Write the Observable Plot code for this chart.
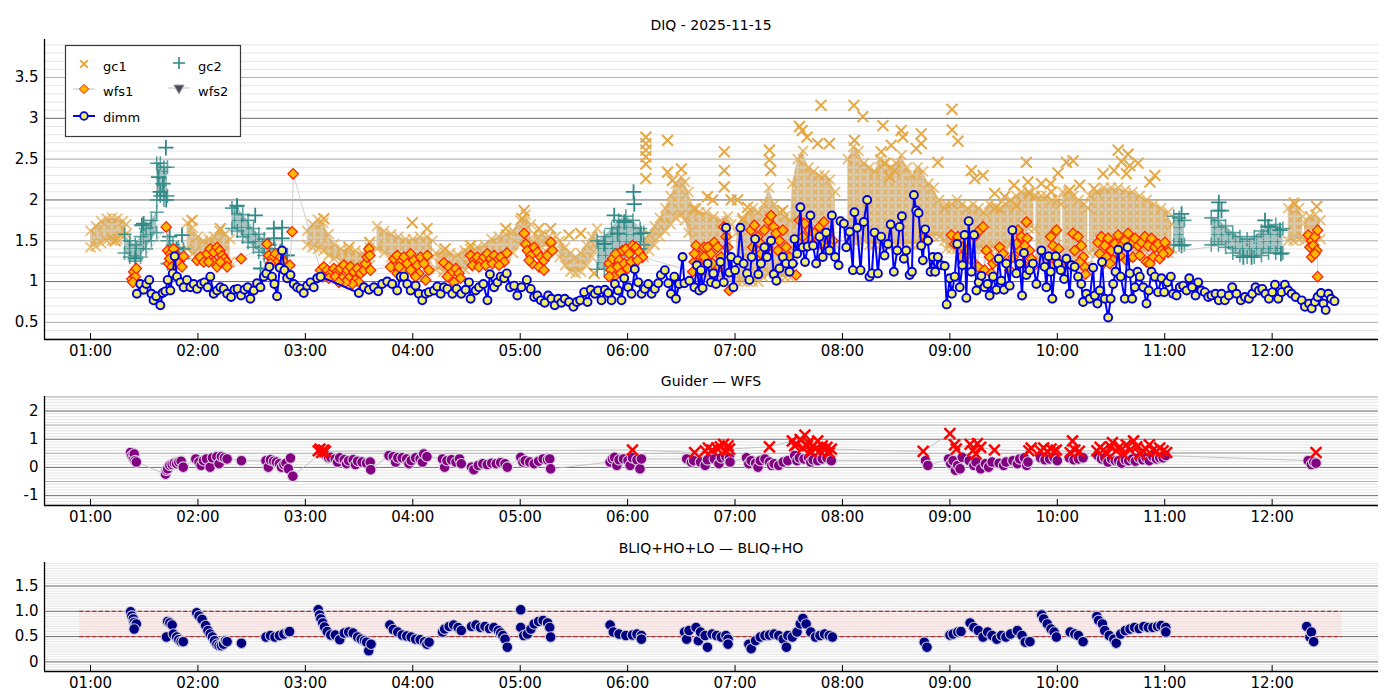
<!DOCTYPE html>
<html><head><meta charset="utf-8">
<script src="https://cdn.jsdelivr.net/npm/d3@7"></script>
<script src="https://cdn.jsdelivr.net/npm/@observablehq/plot@0.6"></script>
<style>
body{margin:0;background:#fff;font-family:"DejaVu Sans",sans-serif;}
#wrap{position:relative;width:1400px;height:700px;overflow:hidden;background:#fff;}
.ttl{position:absolute;left:44px;width:1334px;text-align:center;font-size:14px;line-height:16px;height:16px;color:#000;font-family:"DejaVu Sans",sans-serif;}
</style></head><body><div id="wrap">
<svg width="0" height="0" style="position:absolute">
 <defs>
  <pattern id="gc1pat" width="7" height="7" patternUnits="userSpaceOnUse">
   <rect width="7" height="7" fill="#dac9ab"/>
   <path d="M0.8,0.8 L5.2,5.2 M5.2,0.8 L0.8,5.2" stroke="#e2b062" stroke-width="1.4" fill="none"/>
  </pattern>
  <pattern id="gc2pat" width="7" height="7" patternUnits="userSpaceOnUse">
   <rect width="7" height="7" fill="#a8c4c2"/>
   <path d="M3.5,0.5 L3.5,6.5 M0.5,3.5 L6.5,3.5" stroke="#4a9693" stroke-width="1.2" fill="none"/>
  </pattern>
 </defs>
</svg>
</div>
<script>
// ---------- axes / labels ----------
const hourTicks = [60,120,180,240,300,360,420,480,540,600,660,720];
const hourLabels = ["01:00","02:00","03:00","04:00","05:00","06:00","07:00","08:00","09:00","10:00","11:00","12:00"];
const diqTicks = [0.5,1,1.5,2,2.5,3,3.5];
const diqLabels = ["0.5","1","1.5","2","2.5","3","3.5"];
const gwTicks = [-1,0,1,2];
const gwLabels = ["-1","0","1","2"];
const blTicks = [0,0.5,1,1.5];
const blLabels = ["0","0.5","1.0","1.5"];
const titles = ["DIQ - 2025-11-15","Guider \u2014 WFS","BLIQ+HO+LO \u2014 BLIQ+HO"];
const legendNames = ["gc1","gc2","wfs1","wfs2","dimm"];
const blThresholds = [0.5,1.0];
const blBandSpan = [54,759];

// ---------- DIQ panel data (time in minutes after 00:00, value in arcsec) ----------
const gc1Bands = [
 [[60,1.42,1.62],[63,1.43,1.68],[66,1.47,1.74],[69,1.50,1.77],[72,1.50,1.78],[75,1.52,1.77],[78,1.55,1.74],[80,1.58,1.70]],
 [[114,1.40,1.72],[117,1.34,1.66],[120,1.30,1.55],[123,1.28,1.50],[126,1.25,1.52],[129,1.25,1.55],[132,1.24,1.62],[135,1.22,1.58],[138,1.24,1.52]],
 [[181,1.45,1.62],[184,1.42,1.70],[187,1.40,1.76],[190,1.38,1.72],[193,1.32,1.58],[196,1.28,1.46],[200,1.25,1.40],[204,1.22,1.38],[208,1.20,1.38],[212,1.18,1.35],[216,1.20,1.42]],
 [[220,1.40,1.68],[224,1.35,1.62],[228,1.30,1.58],[232,1.28,1.55],[236,1.25,1.52],[240,1.25,1.52],[244,1.28,1.55],[248,1.28,1.55],[251,1.30,1.50]],
 [[253,1.15,1.35],[257,1.12,1.38],[261,1.10,1.35],[265,1.12,1.33],[269,1.15,1.38],[271,1.18,1.35]],
 [[272,1.20,1.40],[276,1.22,1.42],[280,1.25,1.45],[284,1.28,1.52],[288,1.30,1.55],[292,1.32,1.58],[296,1.35,1.62],[300,1.45,1.75],[303,1.55,1.82],[306,1.50,1.70]],
 [[308,1.45,1.58],[312,1.42,1.58],[316,1.42,1.55],[320,1.40,1.55]],
 [[322,1.30,1.50],[325,1.20,1.42],[328,1.12,1.35],[331,1.10,1.30],[334,1.12,1.35],[337,1.20,1.45],[340,1.30,1.55],[343,1.40,1.65]],
 [[369,1.30,1.50],[372,1.38,1.58],[375,1.45,1.68],[378,1.55,1.78],[381,1.62,1.90],[384,1.70,2.05],[387,1.78,2.20],[390,1.82,2.28],[392,1.75,2.22],[394,1.60,2.10],[397,1.30,1.90],[400,1.10,1.85],[404,1.05,1.85],[408,1.05,1.80],[412,1.05,1.75],[416,1.05,1.80],[418,1.10,1.70]],
 [[421,1.00,1.60],[424,1.00,1.75],[427,1.00,1.85],[430,1.00,1.90],[433,1.00,1.85],[436,1.05,1.95],[439,1.10,2.15],[442,1.10,1.95],[445,1.05,1.85],[448,1.05,1.80],[451,1.05,1.75],
  [452,1.40,2.20],[455,1.45,2.50],[458,1.45,2.60],[461,1.45,2.40],[464,1.45,2.35],[467,1.45,2.30],[470,1.45,2.30],[473,1.45,2.25],[476,1.45,2.10]],
 [[483,1.50,2.50],[486,1.50,2.65],[489,1.50,2.60],[492,1.50,2.45],[495,1.45,2.40],[498,1.45,2.35],[501,1.45,2.50],[504,1.45,2.45],[507,1.45,2.40],[510,1.45,2.45],[513,1.45,2.55],[516,1.45,2.40],[519,1.45,2.30],[522,1.45,2.40],[525,1.55,2.35],[528,1.55,2.20],[531,1.55,2.15],[534,1.55,2.00],[537,1.50,1.90],
  [538,1.40,1.95],[541,1.40,1.95],[544,1.40,2.00],[547,1.40,1.95],[550,1.40,1.90],[553,1.40,1.95],[556,1.40,1.90],[559,1.40,1.85],[562,1.40,1.95],[565,1.40,1.90],[568,1.40,1.90],[571,1.40,1.95],[574,1.45,2.00],[577,1.55,2.05],[580,1.60,2.10],[584,1.65,2.10],[587,1.65,2.05]],
 [[588,1.25,2.05],[591,1.22,2.05],[594,1.22,2.05],[597,1.22,2.00],[600,1.25,2.00],[602,1.30,1.95]],
 [[603,1.20,2.10],[606,1.18,2.10],[609,1.18,2.05],[612,1.18,2.00],[615,1.18,1.95],[617,1.20,1.90]],
 [[618,1.35,2.05],[622,1.35,2.10],[626,1.35,2.15],[630,1.35,2.15],[634,1.35,2.15],[638,1.35,2.12],[642,1.35,2.10],[646,1.35,2.05],[650,1.35,2.00],[654,1.35,1.95],[658,1.35,1.90],[662,1.35,1.85],[664,1.40,1.70]],
 [[729,1.50,1.90],[732,1.50,1.97],[735,1.52,1.90],[737,1.55,1.80]],
 [[738,1.50,1.72],[741,1.48,1.80],[744,1.50,1.82],[747,1.52,1.75]]
];
const gc1Extra = [[73.8,1.50],[116.7,1.75],[132.5,1.65],[190.3,1.77],[204.3,1.42],[216,1.48],[239.7,1.72],[248,1.65],[258,1.40],[272.3,1.44],[291.9,1.65],[302.2,1.87],[301,1.77],[310.5,1.65],[317,1.65],[327.3,1.57],[333.8,1.59],[341.3,1.10],
 [370.2,2.77],[370.2,2.69],[370.2,2.61],[370.2,2.53],[370.2,2.44],[370.2,2.26],[382.3,2.73],[382.3,2.34],[390,2.38],[385,2.24],[398,1.89],[404.6,2.04],
 [414,2.59],[414,2.36],[414,2.16],[417.8,2.0],[407.5,2.0],[421.4,2.0],[424.3,1.77],[427,1.91],[439.2,2.61],[439.2,2.49],[440,2.36],[446.7,1.87],
 [456,2.90],[460.2,2.77],[466.2,2.69],[472.7,2.69],[468,3.16],[457.5,2.85],[486.4,3.16],[491.4,3.02],[486.7,2.73],
 [502.6,2.91],[512.8,2.85],[513.7,2.77],[524,2.81],[524,2.69],[521.2,2.63],[507.2,2.67],[501.6,2.59],[503.5,2.45],[506.3,2.28],[509.1,2.36],
 [533.3,2.46],[541.2,3.11],[541.2,2.86],[544.5,2.72],[552,2.36],[553.8,2.26],[558.5,2.30],[565,2.08],[566,1.91],[570.6,2.04],[577.1,1.93],
 [575.8,2.18],[582.7,2.46],[583.6,2.22],[584.5,2.08],[591.1,2.2],[596.3,2.2],[600.4,2.33],[596.7,2.1],[605.1,2.46],[608.8,2.48],[606.9,2.12],[612.5,2.18],
 [634,2.61],[639.5,2.56],[645.1,2.45],[635.8,2.47],[640.5,2.42],[631.7,2.36],[638.6,2.32],[625.6,2.32],[654.5,2.30],[651.7,2.22],[620.5,2.14],[732.7,1.95],[744.9,1.92]];

const gc2Bands = [
 [[79,1.35,1.58],[82,1.30,1.50],[85,1.25,1.45],[88,1.30,1.55],[91,1.40,1.65],[94,1.50,1.75],[97,1.60,1.85]],
 [[97,2.00,2.45],[99,2.05,2.45],[101,2.00,2.40],[103,2.05,2.40]],
 [[103,1.22,1.50],[106,1.20,1.45],[109,1.25,1.42],[112,1.28,1.40]],
 [[139,1.65,1.90],[142,1.62,1.92],[145,1.55,1.82],[148,1.48,1.75],[151,1.42,1.65],[154,1.36,1.58],[157,1.32,1.52],[160,1.28,1.45],[163,1.25,1.40],[166,1.22,1.38],[170,1.18,1.32]],
 [[343,1.15,1.50],[347,1.15,1.55],[351,1.20,1.65],[355,1.25,1.75],[359,1.30,1.80],[363,1.35,1.75],[367,1.40,1.65],[369,1.45,1.60]],
 [[665,1.45,1.80],[668,1.45,1.78],[671,1.45,1.75]],
 [[686,1.45,1.78],[690,1.45,1.75],[694,1.42,1.68],[698,1.35,1.60],[702,1.32,1.55],[706,1.30,1.52],[710,1.30,1.55],[714,1.32,1.62],[718,1.35,1.68],[722,1.35,1.70],[726,1.35,1.65]]
];
const gc2Extra = [[102.1,2.64],[98,2.28],[100.5,2.20],[99,2.10],[102.3,2.00],[88.7,1.69],[85,1.28],[89.7,1.71],[104.2,1.55],[111.1,1.57],[108,1.40],[141.8,1.93],[152,1.81],[162.4,1.65],[167,1.66],[162.4,1.53],[167,1.53],[155,1.16],[169.8,1.32],[363.3,2.10],[363.7,1.95],[352.5,1.81],[358.1,1.73],[346.9,1.46],[354.4,1.59],[367.4,1.59],[669.4,1.83],[669.4,1.44],[690.2,1.97],[689.9,1.87],[691.7,1.87],[703.9,1.30],[708.5,1.30],[716,1.75],[717.8,1.67],[724.4,1.63],[724.9,1.34]];

const wfs1 = [[83.1,1.03],[84.1,1.12],[85,1.06],[85.6,1.16],[83.7,0.99],[102.3,1.67],
 [103.1,1.38],[104.6,1.34],[106.4,1.40],[108.3,1.32],[110.2,1.28],[112,1.31],[103.6,1.22],[105.5,1.18],[109.2,1.22],[111.1,1.18],[104.2,1.28],
 [119.5,1.26],[121.3,1.30],[123.2,1.24],[125.1,1.34],[126.9,1.40],[128.8,1.36],[130.7,1.42],[132.2,1.38],[133.5,1.32],[134.8,1.28],[135.9,1.24],[136.3,1.18],[128.8,1.24],[130.7,1.18],[126,1.24],[132.5,1.24],
 [144.1,1.28],[158.6,1.46],[159.6,1.32],[161.4,1.28],[163.3,1.34],[164.2,1.24],[166.1,1.30],[168,1.24],[169.8,1.18],[171.3,1.20],[160.5,1.22],[172.6,1.61],[173.2,2.32],
 [188.4,1.14],[190.3,1.18],[192.2,1.14],[194,1.10],[195.9,1.16],[197.8,1.12],[199.6,1.16],[201.5,1.20],[203.4,1.14],[205.2,1.18],[207.1,1.12],[209,1.16],[210.8,1.10],[212.7,1.14],[213.6,1.22],[214.5,1.30],[215.5,1.40],[216,1.32],[216.4,1.14],
 [189.4,1.06],[193.1,1.04],[196.8,1.06],[200.6,1.04],[204.3,1.04],[208,1.02],[209.9,0.99],[206.2,0.97],[202.4,0.99],[198.7,0.99],
 [227.6,1.18],[230.4,1.30],[232.2,1.14],[231.3,1.10],
 [229.5,1.28],[231.3,1.32],[233.2,1.24],[235.1,1.30],[236.9,1.22],[238.8,1.34],[240.6,1.26],[242.5,1.20],[244.4,1.30],[246.2,1.22],[248.1,1.32],[249,1.14],[247.2,1.02],[234.1,1.14],[238.8,1.14],[243.4,1.10],[232.3,1.18],[241.6,1.06],
 [257.4,1.23],[260.2,1.18],[262.1,1.12],[264,1.16],[265.8,1.10],[266.7,1.04],[259.3,1.06],[263,0.99],
 [272.3,1.32],[274.2,1.26],[276.1,1.30],[277.9,1.24],[279.8,1.30],[281.7,1.34],[283.5,1.28],[285.4,1.32],[287.3,1.26],[289.1,1.30],[291,1.24],[292.5,1.35],[273.3,1.20],[277,1.18],[280.7,1.20],[284.5,1.22],[288.2,1.20],
 [302.2,1.59],[303.1,1.46],[304,1.38],[305.9,1.32],[307.8,1.42],[309.6,1.36],[311.5,1.30],[313.3,1.26],[315.2,1.32],[317.1,1.48],[318,1.38],[306.8,1.22],[310.5,1.18],[313.3,1.14],[305,1.26],
 [349.7,1.22],[351.6,1.28],[353.4,1.34],[355.3,1.26],[357.1,1.38],[359,1.40],[360.9,1.34],[362.7,1.44],[364.6,1.42],[366.5,1.36],[368.3,1.30],[350.6,1.14],[354.4,1.18],[358.1,1.22],[361.8,1.24],[365.5,1.26],[352.5,1.06],[356.2,1.10],[360,1.16],[349.7,1.06],
 [398.2,1.44],[400,1.32],[402.8,1.42],[404.7,1.26],[397.2,1.24],
 [397.3,1.34],[399.1,1.22],[401,1.12],[404.7,1.42],[406.6,1.34],[408.4,1.48],[410.3,1.42],[412.2,1.30],[413.7,1.67],[415,1.55],[415.9,1.42],[416.8,0.89],[402.8,1.30],[407.5,1.22],[411.2,1.18],[396.3,1.12],
 [428.9,1.63],[430.8,1.69],[432.7,1.55],[434.5,1.46],[436.4,1.63],[438.6,1.75],[440.1,1.81],[441.6,1.67],[442.9,1.59],[444.8,1.50],[446.7,1.63],[448.5,1.42],[450.4,1.30],[452.2,1.22],[454.1,1.08],[429.9,1.42],[434.5,1.34],[438.3,1.42],[443.9,1.38],
 [456,1.75],[458.8,1.71],[461.6,1.63],[464.4,1.59],[467.2,1.67],[469.6,1.73],[471.8,1.59],[474.6,1.50],[457.8,1.55],[463.4,1.46],[468.1,1.46],[472.7,1.44],
 [525.9,1.55],[527.7,1.50],
 [540.8,1.57],[542.6,1.46],[544.5,1.55],[547.3,1.42],[550.1,1.38],[553.8,1.55],[556.6,1.63],[558.5,1.67],[560.4,1.38],[562.2,1.30],[564.1,1.22],[566,1.26],[567.8,1.42],[569.7,1.34],[571.5,1.22],[573.4,1.14],[575.3,1.30],[577.1,1.42],[579,1.38],[546.4,1.30],[552,1.26],[555.7,1.18],[559.4,1.14],[563.2,1.10],
 [578,1.63],[579.9,1.55],[582.7,1.73],[583.2,1.53],[584.5,1.38],[585.5,1.28],[581.8,1.44],[577.1,1.46],[580.8,1.22],[586.4,1.18],
 [596.3,1.55],[597.6,1.44],[599.5,1.63],[600.8,1.40],[598.5,1.30],[601.3,1.22],[596.7,1.18],
 [608.8,1.59],[611.6,1.55],[613.4,1.44],[614.4,1.30],[615.3,1.18],[615.7,1.09],[609.7,1.38],[612.5,1.24],
 [622.8,1.48],[624.6,1.55],[626.5,1.44],[628.4,1.53],[630.2,1.38],[632.1,1.46],[634,1.57],[635.8,1.44],[637.7,1.50],[639.5,1.59],[641.4,1.46],[643.3,1.53],[645.1,1.44],[647,1.48],[648.9,1.55],[650.7,1.44],[652.6,1.53],[654.5,1.42],[656.3,1.46],[658.2,1.38],[660.1,1.48],[661.9,1.36],
 [623.7,1.34],[627.4,1.30],[631.2,1.26],[634.9,1.32],[638.6,1.26],[642.3,1.30],[646.1,1.32],[649.8,1.24],[653.5,1.30],[657.2,1.28],[659.1,1.34],[625.6,1.22],[629.3,1.22],[651.7,1.22],
 [740.2,1.57],[742.1,1.50],[743.9,1.55],[745.4,1.63],[741.1,1.42],[743,1.44],[744.9,1.38],[742.1,1.30],[743.9,1.34],[745.4,1.06]];

const dimm = [[85.9,0.85],[87.8,0.97],[89.7,0.90],[91.2,0.97],[92.8,1.02],[94,0.85],[95.2,0.77],[96.7,0.82],[99,0.71],[100.3,0.86],[101.8,0.88],[103.1,1.02],[104.6,0.89],[105.9,1.10],[107,1.31],[108.3,1.06],[110.2,0.99],[112,0.93],[113.9,1.02],[115.8,0.93],[117.6,0.97],[119.5,0.91],[121.7,0.97],[123.6,0.99],[125.4,0.93],[126.9,1.06],[128.8,0.85],[130.7,0.89],[132.5,0.93],[134.4,0.91],[136.3,0.85],[138.5,0.81],[140.4,0.90],[142.2,0.91],[144.1,0.83],[146,0.90],[147.8,0.93],[149.3,0.79],[151.2,0.89],[153,0.98],[154.9,0.93],[156.8,1.06],[158.2,1.10],[159.9,1.18],[161.4,1.06],[162.7,0.97],[164.2,0.82],[165.7,1.17],[167,1.38],[168.3,1.14],[169.8,1.04],[171.7,1.08],[173.5,0.97],[175.4,0.93],[177.3,0.91],[179.1,0.86],[181,0.95],[182.9,0.99],[184.7,0.93],[186.6,1.04],[188.5,1.06],[209.9,0.86],[212.7,0.93],[215.5,0.90],[218.3,0.93],[220.7,0.88],[222.9,0.97],[225.7,1.0],[228.5,0.97],
 [231.3,0.89],[233.2,1.06],[235.1,1.06],[236.9,0.97],[238.8,0.89],[241.6,0.95],[243.4,0.85],[245.3,0.77],[247.2,0.85],[249,0.87],[251.8,0.89],[253.7,0.94],[255.6,0.85],[257.4,0.93],[259.3,0.91],[262.1,0.85],[264.5,0.91],[267.1,0.85],[269.5,0.90],[271.4,0.99],[272.3,0.79],[275.1,0.89],[277,0.93],[279.4,0.97],[281.7,0.77],[283.1,1.09],[285.4,0.93],[287.3,0.99],[289.1,1.06],[291,1.04],[292.5,1.10],[294.3,0.93],[296.6,0.95],[298.4,0.83],[300.7,0.93],[303.7,1.02],[305.9,0.91],[307.8,0.81],[309.6,0.83],[311.5,0.77],[313.7,0.74],[315.6,0.83],[317.4,0.79],[319.3,0.71],[321.2,0.79],[323,0.74],[324.9,0.79],[327.3,0.75],[329.7,0.69],[331.6,0.75],[333.5,0.77],[335.7,0.87],[337.6,0.75],[339.4,0.90],[341.7,0.85],[343.5,0.89],[345.4,0.77],[347.3,0.90],[349.1,0.86],[351,0.77],[352.9,0.97],[354.7,0.89],[356.6,0.77],[358.1,1.04],[360.3,0.93],[362.2,0.85],[364,1.15],[365.9,0.99],[367.8,0.85],[369.6,0.91],[371.5,0.97],[373.4,0.85],[375.2,0.91],[377.1,0.98],[378.6,1.08],[380.8,1.14],[382.7,0.98],[384.2,0.85],[386.1,1.06],[387,0.79],[388.8,0.97],
 [390.7,1.30],[391.7,0.98],[394.5,1.01],[397.3,0.93],[398.7,1.20],[400,0.89],[401,1.14],[401.9,0.92],[404.7,1.22],[406.6,0.99],[407.9,1.10],[409.4,0.97],[411.8,1.24],[413.7,0.99],[415,1.66],[416.8,1.11],[417.8,1.30],[419.1,0.93],[420,1.14],[421.5,1.26],[423,1.66],[424.8,1.22],[426.7,1.10],[428,1.02],[429.3,1.30],[431.2,1.52],[433,1.09],[434.5,1.22],[436.4,1.42],[437.9,1.30],[440.1,1.50],[441.6,1.09],[443.1,1.01],[444.8,1.16],[446.7,1.30],[448.5,1.22],[450.4,1.12],[452.2,1.22],[453.2,1.52],[454.7,1.34],[456.5,1.91],[457.8,1.42],[459.1,1.24],[460.6,1.43],[462.1,1.81],[463.6,1.44],[465.3,1.22],[467.2,1.55],[469,1.30],[470.9,1.60],[472.7,1.38],[474.1,1.81],[475.9,1.30],[477.8,1.20],[478.9,1.74],[480.8,1.71],[482.1,1.42],[484,1.61],[485.8,1.14],[486.7,1.85],[488.2,1.66],[490.1,1.14],[491.9,1.73],[493.8,2.0],[495.1,1.06],[496.4,1.10],[497.9,1.60],[499.8,1.10],[501.6,1.55],[503.5,1.32],[505.4,1.46],[506.9,1.70],[508.7,1.12],[510.6,1.38],[511.9,1.67],[513.2,1.80],[514.3,1.28],[515.6,1.38],[517.5,1.08],[518.8,1.12],[519.9,2.06],[521.2,1.87],[522.5,1.84],[524,1.44],[524.9,1.26],[526.2,1.64],[527.7,1.50],[529.2,1.12],[530.5,1.30],[531.8,1.12],[533.3,1.30],[535.2,1.20],[537.1,1.19],[538.2,0.72],[539.9,1.04],[541.1,0.85],[542.7,1.06],[544.1,1.46],[545.5,0.93],[547,1.20],[548.2,1.57],[549.2,0.80],[550.5,1.74],[552,1.12],[553.5,1.57],[554.8,0.89],[556.1,0.99],[557.6,1.07],[559.4,0.93],[561,0.97],[562.2,0.83],[564.1,1.06],[566,0.90],[567.3,1.28],[568.7,1.01],[570.2,0.90],[571.5,1.22],[573.4,0.95],[574.9,1.63],
 [577.1,1.10],[579,1.22],[580.3,0.83],[581.4,1.35],[582.7,1.08],[584.5,1.14],[586.4,1.22],[588.3,0.97],[591.1,1.38],[592.9,1.18],[593.9,0.93],[595.2,1.31],[596.3,1.12],[597.2,0.79],[599.1,1.31],[600.4,1.22],[601.9,1.14],[603.8,1.03],[605.1,1.28],[606.9,0.85],[607.9,1.20],[609.7,1.18],[611.6,1.06],[613.4,0.97],[614.4,0.75],[616.2,0.85],[618.1,0.79],[620,1.17],[620.9,0.83],[622.4,0.73],[623.7,0.89],[625,1.24],[626.5,0.79],[628.4,0.56],[629.8,0.79],[631.2,0.97],[632.5,1.12],[634,1.39],[635.4,1.06],[637.7,0.79],[639.2,1.42],[640.5,1.10],[641.8,0.79],[643.3,0.93],[644.8,1.12],[646.1,1.06],[648,0.93],[649.8,0.73],[651.1,0.89],[652.6,1.12],[654.5,1.06],[656.3,0.87],[658.2,1.04],[659.7,0.87],[661.5,0.99],[663.4,1.06],[664.7,0.85],[666.6,0.83],[668.4,0.93],[670.3,0.95],[672.2,0.89],[673.7,1.04],[675.3,0.93],[677.2,0.83],[678.7,0.99],[680.5,0.89],[682.4,0.87],[684.3,0.81],[686.1,0.83],[688.4,0.85],[690.2,0.77],[691.7,0.85],[693.6,0.77],[695.8,0.83],[697.7,0.93],[700.1,0.85],[702.5,0.77],[704.8,0.81],[707,0.79],[708.9,0.85],[710.7,0.93],[712.6,0.89],[714.5,0.91],[716.3,0.85],[718.2,0.79],[720.1,0.87],[721.6,0.96],[723.4,0.79],[725.3,0.87],[727.1,0.96],[729,0.89],[730.9,0.85],[733.1,0.81],[736.5,0.77],[738.3,0.69],[740.6,0.73],[742.1,0.67],[743.9,0.75],[745.4,0.81],[747.3,0.86],[748.6,0.73],[749.9,0.65],[751.4,0.85],[752.9,0.79],[754.8,0.76]];

// ---------- Guider — WFS ----------
const guiderWfs = [[82.4,0.53],[83.1,0.42],[83.9,0.34],[84.4,0.48],[84.9,0.24],[85.6,0.19],
 [101.9,-0.24],[102.4,-0.1],[103.1,-0.05],[104.3,0.07],[105.6,0.10],[106.8,0.15],[108.1,0.13],[109.3,0.19],[110.6,0.22],[111.8,0.01],
 [118.8,0.30],[120.6,0.19],[121.8,0.07],[123.1,0.24],[124.8,0.30],[126.8,0.01],[128.1,0.34],[130.6,0.38],[131.8,0.13],[133.1,0.38],[134.8,0.34],[136.3,0.30],[144.3,0.24],
 [158,0.24],[159.3,0.01],[160.5,0.27],[162.3,0.22],[163.8,0.19],[165.5,0.13],[166.7,0.01],[168,0.10],[169.2,0.15],[170.5,-0.05],[171.7,0.33],[173,-0.31],
 [189.2,0.53],[190.5,0.48],[191.7,0.42],[193,0.34],[194.2,0.36],[196.7,0.30],[198,0.19],[199.2,0.34],[201.7,0.27],[203,0.13],[204.2,0.24],[206.7,0.27],[208,0.10],[209.2,0.22],[211.7,0.19],[214.2,0.15],[216.2,0.19],[216.5,-0.08],
 [226.7,0.42],[229.1,0.38],[230.4,0.19],[231.6,0.34],[234.1,0.34],[236.6,0.30],[237.9,0.13],[239.1,0.24],[241.6,0.34],[244.1,0.30],[245.4,0.19],[246.1,0.48],[247.9,0.38],
 [256.6,0.30],[257.8,0.01],[259.1,0.24],[261.6,0.27],[264.1,0.19],[266.1,0.30],[267.1,0.13],
 [272.8,0.01],[274.1,-0.08],[276.6,0.07],[279.1,0.13],[281.6,0.10],[284.1,0.15],[286.6,0.13],[289.1,0.17],[291.5,0.13],[292.8,0.01],
 [300.3,0.36],[301.5,0.19],[302.8,0.24],[305.3,0.19],[307.8,0.13],[310.3,0.22],[312.8,0.30],[315.3,0.27],[316.5,0.30],[317,-0.05],
 [350.2,0.19],[351.5,0.30],[352.7,0.36],[354,0.07],[355.2,0.27],[357.7,0.30],[360.2,0.24],[361.4,0.07],[362.7,0.34],[365.2,0.27],[366.9,-0.05],[367.7,0.30],
 [393,0.30],[395.6,0.19],[396.9,0.24],[400.7,0.19],[403.3,0.07],[404.6,0.27],[408.4,0.30],[411,0.13],[412.3,0.34],[414.9,0.38],[416.9,0.34],[417.2,0.19],
 [426.4,0.34],[427.7,0.13],[429,0.24],[431.5,0.15],[432.8,0.01],[434.1,0.24],[436.7,0.30],[439.2,0.19],[440.5,0.07],[441.8,0.13],[444.4,0.07],[446.9,0.19],[449.5,0.24],
 [453.3,0.42],[454.6,0.24],[455.9,0.34],[458.5,0.30],[461,0.34],[462.3,0.19],[463.6,0.27],[466.2,0.24],[468.7,0.30],[471.3,0.34],[473.8,0.24],
 [526.4,0.24],[527.7,0.07],
 [539.3,0.30],[540.5,0.13],[541.8,0.24],[543.1,-0.10],[544.4,0.07],[545.7,-0.05],[546.9,0.36],
 [550.8,0.24],[553.4,0.07],[554.6,0.19],[557.2,-0.05],[559.8,0.13],[561.6,0.01],[563.6,0.19],[567.5,0.15],[570,0.07],[571.3,0.19],[575.2,0.24],[577.7,0.13],[579,0.30],[581.6,0.34],[582.9,0.07],[583.6,0.19],
 [590.6,0.34],[593.1,0.27],[595.7,0.30],[598.2,0.34],[600,0.24],
 [606.7,0.34],[609.3,0.27],[611.8,0.30],[614.4,0.34],
 [622.6,0.42],[624.7,0.30],[626.5,0.34],[628.3,0.19],[630.3,0.30],[632.4,0.24],[634.2,0.24],[635.9,0.15],[638,0.27],[639.9,0.24],[641.9,0.30],[643.6,0.22],[645.7,0.34],[647.8,0.27],[649.6,0.34],[651.4,0.24],[653.4,0.38],[655.4,0.30],[657.2,0.34],[659.1,0.34],[660.6,0.42],
 [740.1,0.24],[741.9,0.10],[743.2,0.19],[744.5,0.15]];
const guiderWfsAlt = [[187.2,0.59],[188.2,0.65],[189.2,0.53],[190.2,0.62],[191.2,0.57],[362.7,0.62],[397.4,0.53],[403.3,0.59],[405.1,0.69],[407.2,0.62],[409.7,0.69],[411.8,0.73],[413.6,0.82],[414.9,0.59],[416.1,0.77],[416.9,0.65],[439.2,0.73],
 [452,0.94],[453.3,0.77],[454.6,0.82],[456.4,0.99],[457.9,0.69],[459,1.15],[460.5,0.77],[461,0.88],[462.3,0.57],[463.6,0.77],[464.9,0.65],[466.2,0.94],[467.4,0.59],[468.7,0.77],[470,0.62],[471.3,0.71],[472.6,0.53],[473.8,0.65],
 [525.1,0.57],[540,1.20],[542.6,0.80],[543.6,0.65],[551.3,0.82],[552.8,0.59],[554.6,0.48],[555.4,0.85],[557.2,0.71],[564.9,0.62],[584.1,0.59],[585.4,0.69],
 [590.6,0.59],[592.4,0.69],[594.4,0.57],[596.5,0.65],[598.2,0.57],[599.5,0.62],[607.2,0.53],[608.5,0.94],[609.8,0.62],[612.3,0.57],
 [622.1,0.59],[623.9,0.71],[625.7,0.62],[627.7,0.48],[629.8,0.73],[630.8,0.88],[632.9,0.59],[634.9,0.73],[636.7,0.48],[638.5,0.80],[640.6,0.62],[642.6,0.94],[644.4,0.73],[646.2,0.48],[647.8,0.59],[649.6,0.65],[651.4,0.80],[653.4,0.62],[655.4,0.57],[657.2,0.69],[659.1,0.59],[661.1,0.53],[744.5,0.53]];

// ---------- BLIQ+HO+LO — BLIQ+HO ----------
const bliq = [[82.4,0.99],[83.1,0.91],[83.9,0.85],[84.4,0.78],[84.9,0.72],[85.6,0.75],[84.4,0.65],
 [102.4,0.49],[103.1,0.80],[104.3,0.77],[105.6,0.73],[106.3,0.55],[108.1,0.49],[109.3,0.44],[110.6,0.40],[111.8,0.40],
 [119.3,0.97],[120.6,0.91],[122.3,0.84],[124.3,0.72],[125.6,0.62],[126.8,0.55],[128.1,0.49],[129.3,0.42],[130.6,0.35],[131.8,0.32],[133.1,0.32],[134.3,0.35],[135.5,0.42],[136.3,0.40],[144.3,0.37],
 [158,0.49],[160.5,0.52],[163,0.49],[165.5,0.52],[168,0.55],[170.5,0.59],[171.2,0.60],
 [187.2,1.03],[188,0.93],[188.7,0.85],[189.7,0.77],[190.7,0.69],[192.2,0.60],[194.2,0.53],[196.7,0.53],[199.2,0.44],[201.7,0.57],[204.2,0.59],[206.7,0.57],[209.2,0.49],[211.2,0.45],[213,0.42],[214.2,0.39],[215.4,0.22],[216.7,0.35],
 [227.2,0.73],[229.1,0.64],[231.6,0.59],[234.1,0.53],[236.6,0.51],[239.1,0.49],[241.6,0.45],[244.1,0.44],[246.6,0.40],[247.9,0.35],[249.1,0.39],
 [256.6,0.59],[257.8,0.65],[260.3,0.70],[262.8,0.73],[265.3,0.68],[267.1,0.62],
 [272.8,0.70],[275.3,0.73],[277.8,0.68],[280.3,0.70],[282.8,0.66],[285.3,0.68],[287.8,0.62],[289.1,0.57],[290.3,0.52],[291.5,0.45],[292.8,0.29],
 [300.3,1.03],[300.3,0.68],[302,0.52],[304,0.55],[306,0.65],[307.8,0.75],[310.3,0.80],[312.8,0.82],[315.3,0.77],[316.5,0.68],[317,0.49],
 [350.2,0.73],[352,0.59],[355.2,0.55],[359,0.52],[362.7,0.53],[365.2,0.55],[367.7,0.52],[367.7,0.45],
 [391.8,0.59],[393,0.45],[394.3,0.62],[398.2,0.68],[399.5,0.42],[400.7,0.59],[403.3,0.52],[404.6,0.29],[407.2,0.55],[409.7,0.52],[412.3,0.49],[414.9,0.52],[416.1,0.45],[416.1,0.35],
 [427.7,0.35],[429,0.26],[431.5,0.42],[434.1,0.49],[436.7,0.52],[439.2,0.53],[441.8,0.55],[444.4,0.52],[446.9,0.45],[448.7,0.29],[449.5,0.52],
 [452,0.49],[454.6,0.59],[456.4,0.75],[457.9,0.86],[459.7,0.75],[462.3,0.59],[464.9,0.49],[467.4,0.52],[470,0.55],[472.6,0.52],[474.4,0.49],
 [525.7,0.39],[527.2,0.29],
 [540,0.53],[541.8,0.55],[544.4,0.59],[546.2,0.60],
 [551.3,0.77],[553.4,0.68],[555.9,0.62],[558.5,0.49],[561.1,0.59],[563.6,0.52],[566.2,0.45],[568.8,0.52],[571.3,0.49],[573.9,0.55],[577.7,0.62],[580.3,0.52],[582.1,0.39],[584.7,0.40],
 [591.3,0.93],[592.4,0.85],[594.4,0.75],[596.5,0.65],[598.2,0.59],[599.5,0.49],
 [607.2,0.59],[609.8,0.55],[611.8,0.52],[614.4,0.40],
 [622.1,0.90],[623.1,0.82],[625.2,0.75],[626.5,0.62],[629,0.52],[631.6,0.45],[632.9,0.37],[635.4,0.55],[638,0.62],[640.6,0.65],[643.1,0.68],[645.7,0.66],[648.3,0.70],[650.8,0.68],[653.4,0.68],[656,0.70],[658,0.72],[660.6,0.68],[660.6,0.59],
 [739.3,0.70],[741.1,0.49],[741.9,0.59],[743.2,0.40]];

// ---------- helpers ----------
const X_DOMAIN = [34.3, 779.4];
const wrap = document.getElementById("wrap");
const P = d => d[0], V = d => d[1];
function bandRows(bands){ return bands.flatMap((seg,i)=>seg.map(([t,lo,hi])=>({seg:i,t,lo,hi}))); }
function edges(rows){ return rows.flatMap(r=>[[r.t,r.lo],[r.t,r.hi]]); }
function steps(y0,y1,n){ const out=[]; for(let i=Math.ceil(y0*n-1e-9);i<=Math.floor(y1*n+1e-9);i++) out.push(+(i/n).toFixed(4)); return out; }

function panel({top,height,mt,mb,ydom,yTicks,yLabels,minorN,halfDark,marks}){
  const [y0,y1]=ydom;
  const frameH = height-mt-mb;
  const tickLen = 6*(y1-y0)/frameH;
  const minor = steps(y0,y1,minorN);
  const halves = steps(y0,y1,2).filter(v=>halfDark ? false : !Number.isInteger(v));
  const majors = halfDark ? steps(y0,y1,2) : steps(y0,y1,1);
  const svg = Plot.plot({
    width:1400, height, marginLeft:44, marginRight:22, marginTop:mt, marginBottom:mb,
    style:{background:"transparent", fontFamily:"'DejaVu Sans', sans-serif", fontSize:"15px", color:"#000", overflow:"visible"},
    x:{domain:X_DOMAIN, axis:null, label:null},
    y:{domain:ydom, axis:null, label:null},
    marks:[
      Plot.ruleY(minor,{stroke:"#e4e4e4",strokeWidth:1}),
      Plot.ruleY(halves,{stroke:"#b3b3b3",strokeWidth:1}),
      Plot.ruleY(majors,{stroke:"#707070",strokeWidth:1}),
      ...marks,
      Plot.ruleX(hourTicks,{y1:y0,y2:y0+tickLen,stroke:"#000",strokeWidth:1}),
      Plot.ruleY([y0],{stroke:"#000",strokeWidth:1.3}),
      Plot.ruleX([X_DOMAIN[0]],{stroke:"#000",strokeWidth:1.3}),
      Plot.axisX(hourTicks,{tickSize:0,tickPadding:6,label:null,fontSize:15,tickFormat:d=>hourLabels[hourTicks.indexOf(d)]}),
      Plot.axisY(yTicks,{tickSize:0,tickPadding:6,label:null,fontSize:15,tickFormat:d=>yLabels[yTicks.indexOf(d)]})
    ]
  });
  svg.style.position="absolute"; svg.style.left="0px"; svg.style.top=top+"px";
  wrap.appendChild(svg);
}

// ---------- panel 1 ----------
const gc1Rows = bandRows(gc1Bands), gc2Rows = bandRows(gc2Bands);
const wfs1Sorted = d3.sort(wfs1, d=>d[0]);
panel({top:0,height:368,mt:39,mb:29,ydom:[0.29,3.966],yTicks:diqTicks,yLabels:diqLabels,minorN:10,halfDark:false,marks:[
  Plot.areaY(gc1Rows,{x:"t",y1:"lo",y2:"hi",z:"seg",fill:"url(#gc1pat)"}),
  Plot.dot(edges(gc1Rows),{x:P,y:V,symbol:"times",r:4.6,stroke:"#e2aa4c",strokeWidth:1.8,strokeOpacity:0.75}),
  Plot.dot(gc1Extra,{x:P,y:V,symbol:"times",r:5,stroke:"#e6a845",strokeWidth:2}),
  Plot.areaY(gc2Rows,{x:"t",y1:"lo",y2:"hi",z:"seg",fill:"url(#gc2pat)"}),
  Plot.dot(edges(gc2Rows),{x:P,y:V,symbol:"plus",r:4.6,stroke:"#2f8a86",strokeWidth:1.6,strokeOpacity:0.8}),
  Plot.dot(gc2Extra,{x:P,y:V,symbol:"plus",r:5,stroke:"#2f8a86",strokeWidth:1.8}),
  Plot.line(wfs1Sorted,{x:P,y:V,stroke:"#c4c4c4",strokeWidth:0.8}),
  Plot.dot(wfs1,{x:P,y:V,symbol:"diamond2",r:4.7,fill:"#ffb800",stroke:"#ff1a00",strokeWidth:1.2}),
  Plot.line(dimm,{x:P,y:V,stroke:"#0000ff",strokeWidth:2}),
  Plot.dot(dimm,{x:P,y:V,r:4,fill:"#eeee66",stroke:"#0000dd",strokeWidth:1.9})
]});

// ---------- panel 2 ----------
panel({top:368,height:162,mt:28,mb:25,ydom:[-1.35,2.515],yTicks:gwTicks,yLabels:gwLabels,minorN:10,halfDark:false,marks:[
  Plot.line(guiderWfs,{x:P,y:V,stroke:"#bdbdbd",strokeWidth:0.9}),
  Plot.line(guiderWfsAlt,{x:P,y:V,stroke:"#bdbdbd",strokeWidth:0.9}),
  Plot.dot(guiderWfs,{x:P,y:V,r:5.3,fill:"#800080",stroke:"#d9cce0",strokeWidth:1.1}),
  Plot.dot(guiderWfsAlt,{x:P,y:V,symbol:"times",r:5,stroke:"#ff0000",strokeWidth:2.5})
]});

// ---------- panel 3 ----------
panel({top:530,height:170,mt:32,mb:29,ydom:[-0.19,1.966],yTicks:blTicks,yLabels:blLabels,minorN:20,halfDark:true,marks:[
  Plot.rect([blThresholds],{x1:()=>blBandSpan[0],x2:()=>blBandSpan[1],y1:d=>d[0],y2:d=>d[1],fill:"#f9d4d4",fillOpacity:0.45}),
  Plot.ruleY(blThresholds,{x1:blBandSpan[0],x2:blBandSpan[1],stroke:"#b8282a",strokeWidth:1.3,strokeDasharray:"4,2.5"}),
  Plot.dot(bliq,{x:P,y:V,r:5.3,fill:"#000080",stroke:"#c9c9d9",strokeWidth:1.1})
]});

// ---------- titles ----------
[[titles[0],17],[titles[1],373],[titles[2],540]].forEach(([t,y])=>{
  const d=document.createElement("div"); d.className="ttl"; d.style.top=y+"px"; d.textContent=t; wrap.appendChild(d);
});

// ---------- legend ----------
const L = d3.select(wrap).append("svg").attr("width",260).attr("height",150)
  .style("position","absolute").style("left","0px").style("top","0px");
L.append("rect").attr("x",65.5).attr("y",45.5).attr("width",175).attr("height",91).attr("fill","#fff").attr("stroke","#3a3a3a").attr("stroke-width",1.2);
const lt = (x,y,s)=>L.append("text").attr("x",x).attr("y",y).attr("dy","0.35em").attr("font-size",13).attr("font-family","DejaVu Sans, sans-serif").text(s);
L.append("path").attr("d",d3.symbol(d3.symbolTimes,40)()).attr("transform","translate(84,64)").attr("fill","none").attr("stroke","#e6a845").attr("stroke-width",2);
lt(103,66,legendNames[0]);
L.append("path").attr("d",d3.symbol(d3.symbolPlus,50)()).attr("transform","translate(179,63)").attr("fill","none").attr("stroke","#2f8a86").attr("stroke-width",1.6);
lt(198,66,legendNames[1]);
L.append("line").attr("x1",73).attr("x2",95).attr("y1",89).attr("y2",89).attr("stroke","#c4c4c4");
L.append("path").attr("d",d3.symbol(d3.symbolDiamond2,55)()).attr("transform","translate(84,89)").attr("fill","#ffb800").attr("stroke","#ff1a00");
lt(103,91,legendNames[2]);
L.append("line").attr("x1",168).attr("x2",190).attr("y1",88).attr("y2",88).attr("stroke","#c4c4c4");
L.append("path").attr("d",d3.symbol(d3.symbolTriangle,45)()).attr("transform","translate(179,88) rotate(180)").attr("fill","#4a4a5a").attr("stroke","#9a9aaa");
lt(198,91,legendNames[3]);
L.append("line").attr("x1",73).attr("x2",95).attr("y1",116).attr("y2",116).attr("stroke","#0000ff").attr("stroke-width",2);
L.append("circle").attr("cx",84).attr("cy",116).attr("r",3.8).attr("fill","#eeee66").attr("stroke","#0000dd").attr("stroke-width",1.8);
lt(103,117,legendNames[4]);
</script></body></html>
